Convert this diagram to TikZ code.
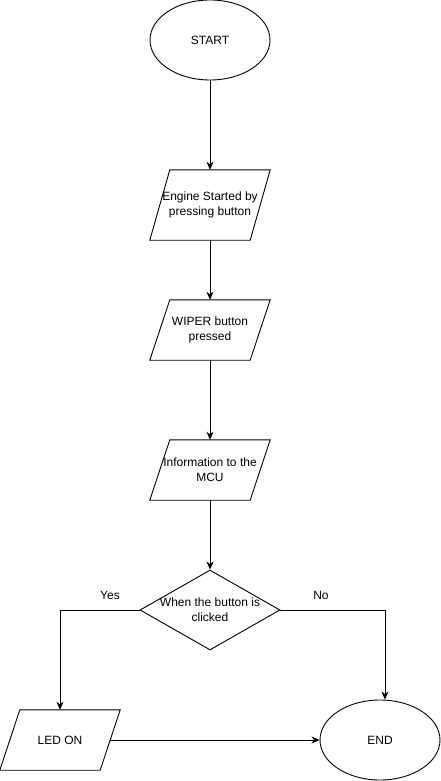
\documentclass[tikz,border=0pt]{standalone}
\usepackage{fontspec}
\setmainfont{Liberation Sans}
\usetikzlibrary{shapes.geometric,arrows.meta}
\begin{document}
\begin{tikzpicture}[x=1pt,y=-1pt,
  every node/.style={font=\fontsize{12}{15}\selectfont, inner sep=0pt, align=center},
  term/.style={draw, ellipse, minimum width=120pt, minimum height=80pt, line width=0.9pt},
  io/.style={rectangle, minimum width=120pt, minimum height=60pt},
  dec/.style={draw, diamond, minimum width=140pt, minimum height=80pt, line width=0.9pt},
  outline/.style={line width=0.9pt, line join=miter},
  flow/.style={-{Stealth[length=8pt,width=7pt,inset=2.5pt]}, line width=0.9pt}
]
\useasboundingbox (0,0) rectangle (441,781);

% process steps
\node[term] (start) at (210,40) {START};
\node[io, minimum height=70pt] (engine) at (210,205) {Engine Started by\\pressing button};
\node[io] (wiper) at (210,330) {WIPER button\\pressed};
\node[io] (info) at (210,470) {Information to the\\MCU};
\node[dec, label={center:{When the button is\\clicked}}] (check) at (210,610) {};
\node[io] (led) at (60,740) {LED ON};
\node[term] (finish) at (380,740) {END};

% parallelogram outlines of the input/output steps
\foreach \n in {engine,wiper,info,led}
  \draw[outline] ([xshift=20pt]\n.north west) -- (\n.north east)
    -- ([xshift=-20pt]\n.south east) -- (\n.south west) -- cycle;

% branch labels
\node (yes) at (110,595) {Yes};
\node (no) at (321,595) {No};

% connectors
\draw[flow] (start) -- (engine);
\draw[flow] (engine) -- (wiper);
\draw[flow] (wiper) -- (info);
\draw[flow] (info) -- (check);
\draw[flow] (check.west) -| (led.north);
\draw[flow] (check.east) -| ([xshift=5pt]finish.north);
\draw[flow] ([xshift=-10pt]led.east) -- (finish.west);
\end{tikzpicture}
\end{document}
